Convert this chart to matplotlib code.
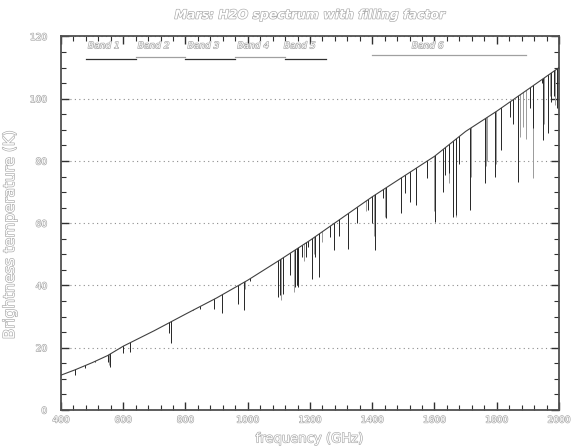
import matplotlib
matplotlib.use("Agg")
import matplotlib.pyplot as plt
from matplotlib.patches import Polygon
from matplotlib.ticker import MultipleLocator
import matplotlib.patheffects as pe

# Continuum brightness temperature of the Mars disk (K) versus frequency (GHz)
cont_freq = [400, 445, 500, 550, 600, 700, 800, 900, 1000, 1100, 1200,
             1300, 1400, 1500, 1600, 1700, 1800, 1900, 2000]
cont_temp = [11.2, 12.9, 15.2, 17.5, 20.5, 25.5, 30.8, 36.0, 41.7, 48.0, 54.5,
             61.5, 68.5, 75.0, 81.5, 89.5, 96.0, 103.0, 110.0]

# H2O absorption lines: centre frequency (GHz) and line-core temperature (K)
dark_freq = [445, 477, 509, 550, 557, 598, 621, 748, 752, 825, 847, 893, 916,
             970, 988, 1007, 1097, 1104, 1113, 1136, 1153, 1158, 1162, 1173,
             1186, 1195, 1207, 1216, 1228, 1264, 1278, 1294, 1322, 1352, 1387,
             1399, 1410, 1435, 1443, 1491, 1505, 1521, 1541, 1575, 1602, 1626,
             1634, 1646, 1661, 1670, 1680, 1714, 1762, 1794, 1815, 1842, 1852,
             1867, 1907, 1918, 1944, 1950, 1966, 1975, 1985, 1992]
dark_core = [11.4, 13.4, 15.3, 15.5, 13.9, 18.2, 18.5, 24.6, 21.6, 32.0, 32.5,
             32.4, 31.1, 34.1, 32.0, 41.5, 36.3, 37.0, 37.3, 43.5, 39.4, 40.0,
             39.5, 49.3, 49.0, 52.5, 42.1, 49.3, 42.6, 55.6, 51.3, 56.0, 51.6,
             60.0, 64.3, 60.0, 51.4, 68.0, 61.6, 63.4, 69.6, 66.9, 65.9, 74.4,
             60.5, 70.1, 75.5, 76.0, 62.1, 62.5, 79.0, 64.3, 72.8, 75.0, 83.5,
             94.2, 92.0, 73.4, 97.0, 90.6, 105.0, 86.8, 88.9, 99.0, 101.0, 97.0]

grey_freq = [555, 990, 1108, 1150, 1160, 1182, 1212, 1240, 1292, 1380, 1405,
             1440, 1600, 1648, 1668, 1716, 1764, 1770, 1796, 1875, 1885, 1893,
             1918, 1952, 1970, 1988]
grey_core = [14.5, 39.0, 35.5, 38.0, 41.0, 48.0, 50.0, 54.0, 58.0, 64.0, 56.0,
             62.0, 64.0, 73.0, 62.0, 75.0, 78.5, 80.0, 79.0, 87.8, 91.0, 87.0,
             74.4, 92.0, 101.0, 98.0]

# HIFI mixer bands (GHz)
band_names = ["Band 1", "Band 2", "Band 3", "Band 4", "Band 5", "Band 6"]
band_lo = [480, 640, 800, 960, 1120, 1400]
band_hi = [640, 800, 960, 1120, 1250, 1895]

x_ticks = [400, 600, 800, 1000, 1200, 1400, 1600, 1800, 2000]
y_ticks = [0, 20, 40, 60, 80, 100, 120]

outline = [pe.withStroke(linewidth=0.9, foreground="#a8a8a8")]

fig = plt.figure(figsize=(5.77, 4.46), dpi=100)
ax = fig.add_axes([0.1057, 0.0807, 0.8631, 0.8375])

ax.plot(cont_freq, cont_temp, color="#404040", lw=0.8, zorder=4)

# region below the continuum, used to cut the absorption lines off at the continuum
under = Polygon([(cont_freq[0], 0)] + list(zip(cont_freq, cont_temp)) +
                [(cont_freq[-1], 0)], closed=True, facecolor="none",
                edgecolor="none")
ax.add_patch(under)

vg = ax.vlines(grey_freq, grey_core, 130, color="#9a9a9a", lw=0.7, zorder=3)
vd = ax.vlines(dark_freq, dark_core, 130, color="#252525", lw=0.7, zorder=3)
vg.set_clip_path(under)
vd.set_clip_path(under)

for i, (name, lo, hi) in enumerate(zip(band_names, band_lo, band_hi)):
    col = "#303030" if i % 2 == 0 else "#a0a0a0"
    yl = 112.8 if i % 2 == 0 else 113.5
    if i == 5:
        yl = 113.9
    ax.plot([lo, hi], [yl, yl], color=col, lw=0.9, zorder=4)
    ax.text(lo + 0.36 * (hi - lo), 117.0, name, ha="center", va="center",
            fontsize=6.5, style="italic", color="white", path_effects=outline)

ax.set_xlim(400, 2000)
ax.set_ylim(0, 120)
ax.set_xticks(x_ticks)
ax.set_yticks(y_ticks)
ax.xaxis.set_minor_locator(MultipleLocator(40))
ax.yaxis.set_minor_locator(MultipleLocator(5))
ax.tick_params(which="both", direction="in", top=True, right=True,
               color="#303030", labelsize=6.5)
ax.tick_params(which="major", length=6, width=1.0)
ax.tick_params(which="minor", length=3.5, width=0.8)
ax.tick_params(axis="y", pad=10)
ax.tick_params(axis="x", pad=4)

for lab in ax.get_xticklabels() + ax.get_yticklabels():
    lab.set_color("white")
    lab.set_path_effects(outline)

for s in ax.spines.values():
    s.set_color("#505050")
    s.set_linewidth(1.3)

ax.yaxis.grid(True, linestyle=(0, (1, 3)), color="#8c8c8c", lw=0.8)
ax.set_axisbelow(True)

ax.set_xlabel("frequency (GHz)", fontsize=9.5, color="white",
              path_effects=outline)
ax.xaxis.set_label_coords(0.5, -0.06)
ax.set_ylabel("Brightness temperature (K)", fontsize=11, color="white",
              path_effects=outline)
ax.yaxis.set_label_coords(-0.088, 0.47)

fig.text(0.537, 0.966, "Mars: H2O spectrum with filling factor", ha="center",
         va="center", fontsize=9, style="italic", weight="bold", color="white",
         path_effects=outline)

fig.savefig("out.png", dpi=100)
